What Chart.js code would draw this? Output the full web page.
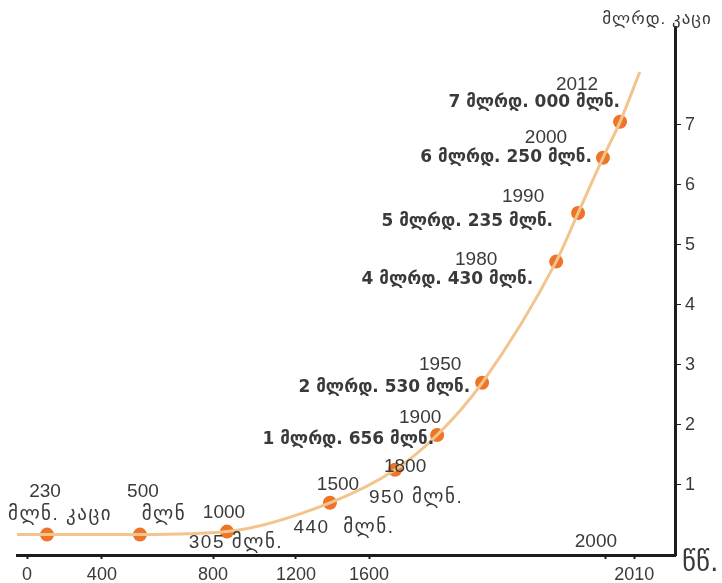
<!DOCTYPE html>
<html>
<head>
<meta charset="utf-8">
<script src="https://cdn.jsdelivr.net/npm/chart.js@4.4.1/dist/chart.umd.min.js"></script>
<style>
    html, body { margin: 0; padding: 0; background: #ffffff; }
    #wrap { width: 722px; height: 583px; }
</style>
</head>
<body>
<div id="wrap"><canvas id="popChart" width="722" height="583"></canvas></div>
<script>
// where each marker sits against the (not-to-scale) time axis
const markerYears = [107, 537, 867, 1386, 1644, 1715, 1791, 1916, 1953, 1995, 2005];
// population, billions, as read against the right axis
const markerValues = [0.17, 0.17, 0.22, 0.70, 1.25, 1.83, 2.70, 4.72, 5.53, 6.45, 7.05];
const curveStart = [-53, 0.17];
const curveEnd = [2012, 7.88];

const yearLabels = ["230", "500", "1000", "1500", "1800", "1900", "1950", "1980", "1990", "2000", "2012"];
const popLabels = [
    "მლნ. კაცი", "მლნ", "305 მლნ.", "440  მლნ.", "950 მლნ.",
    "1 მლრდ. 656 მლნ.", "2 მლრდ. 530 მლნ.", "4 მლრდ. 430 მლნ.",
    "5 მლრდ. 235 მლნ.", "6 მლრდ. 250 მლნ.", "7 მლრდ. 000 მლნ."
];

const axisYears = [0, 400, 800, 1200, 1600, 2000, 2010];
const valueTicks = [1, 2, 3, 4, 5, 6, 7];

// the axis in the picture is drawn unevenly, so the x scale is piecewise
const warpValues = [-53, 0, 400, 800, 1200, 1600, 2000, 2010, 2024.6];
const warpFracs = [0, 0.0152, 0.129, 0.298, 0.424, 0.535, 0.895, 0.938, 1];

function warp(v) {
    const n = warpValues.length;
    let i = 0;
    while (i < n - 2 && v > warpValues[i + 1]) i++;
    const t = (v - warpValues[i]) / (warpValues[i + 1] - warpValues[i]);
    return warpFracs[i] + t * (warpFracs[i + 1] - warpFracs[i]);
}

function unwarp(f) {
    const n = warpFracs.length;
    let i = 0;
    while (i < n - 2 && f > warpFracs[i + 1]) i++;
    const t = (f - warpFracs[i]) / (warpFracs[i + 1] - warpFracs[i]);
    return warpValues[i] + t * (warpValues[i + 1] - warpValues[i]);
}

class WarpScale extends Chart.LinearScale {
    getPixelForValue(value) {
        if (value === null || value === undefined) return NaN;
        return this.getPixelForDecimal(warp(value));
    }
    getValueForPixel(pixel) {
        return unwarp(this.getDecimalForPixel(pixel));
    }
}
WarpScale.id = "warp";
WarpScale.defaults = Chart.LinearScale.defaults;
Chart.register(WarpScale);

const textColor = "#3a3a3a";
const numFont = "19px 'Liberation Sans', 'DejaVu Sans', sans-serif";
const lowFont = "19px 'Liberation Sans', 'DejaVu Sans', sans-serif";
const highFont = "bold 17px 'DejaVu Sans', sans-serif";

// label placement next to each marker: year dx, dy, text dx, dy, align, style
const labelLayout = [
    [-2, -43, 13, -20, "center", "low"],
    [3, -43, 24, -20, "center", "low"],
    [-3, -19, 9, 11, "center", "low"],
    [8, -18, 14, 25, "center", "low"],
    [10, -3, 21, 28, "center", "low"],
    [-17, -17, -3, 5, "right", "high"],
    [-42, -18, -12, 5, "right", "high"],
    [-80, -2, -23, 18, "right", "high"],
    [-55, -16, -25, 9, "right", "high"],
    [-57, -20, -11, 0, "right", "high"],
    [-43, -37, 0, -19, "right", "high"]
];

const labelPlugin = {
    id: "pointLabels",
    afterDatasetsDraw(chart) {
        const ctx = chart.ctx;
        const meta = chart.getDatasetMeta(1);
        ctx.save();
        ctx.fillStyle = textColor;
        ctx.textBaseline = "middle";
        meta.data.forEach((pt, i) => {
            const l = labelLayout[i];
            ctx.letterSpacing = "0px";
            ctx.font = numFont;
            ctx.textAlign = "center";
            ctx.fillText(yearLabels[i], pt.x + l[0], pt.y + l[1]);
            if (l[5] === "low") {
                ctx.font = lowFont;
                ctx.letterSpacing = "1.5px";
            } else {
                ctx.font = highFont;
                ctx.letterSpacing = "0px";
            }
            ctx.textAlign = l[4];
            ctx.fillText(popLabels[i], pt.x + l[2], pt.y + l[3]);
        });

        const xs = chart.scales.x;
        const ys = chart.scales.y;
        ctx.letterSpacing = "0px";
        ctx.font = numFont;
        ctx.textAlign = "center";
        ctx.fillText("2000", xs.getPixelForValue(2000) - 10, xs.top - 13);

        ctx.font = "17px 'Liberation Sans', 'DejaVu Sans', sans-serif";
        ctx.letterSpacing = "1px";
        ctx.fillText("მლრდ. კაცი", ys.left - 18, 19);

        ctx.letterSpacing = "0px";
        ctx.font = "27px 'DejaVu Sans', sans-serif";
        ctx.textAlign = "left";
        ctx.fillText("წწ.", ys.left + 7, xs.top + 9);
        ctx.restore();
    }
};

const curvePoints = [{ x: curveStart[0], y: curveStart[1] }]
    .concat(markerYears.map((x, i) => ({ x: x, y: markerValues[i] })))
    .concat([{ x: curveEnd[0], y: curveEnd[1] }]);

new Chart(document.getElementById("popChart"), {
    type: "line",
    data: {
        datasets: [{
            data: curvePoints,
            borderColor: "#f2c48e",
            borderWidth: 3,
            pointRadius: 0,
            cubicInterpolationMode: "monotone",
            fill: false
        }, {
            data: markerYears.map((x, i) => ({ x: x, y: markerValues[i] })),
            showLine: false,
            pointRadius: 7,
            pointBackgroundColor: "#ee7428",
            pointBorderColor: "#ee7428",
            pointBorderWidth: 0
        }]
    },
    options: {
        responsive: false,
        animation: false,
        layout: { padding: { left: 17, top: 27, right: 0, bottom: 0 } },
        plugins: {
            legend: { display: false },
            tooltip: { enabled: false }
        },
        scales: {
            x: {
                type: "warp",
                min: -53,
                max: 2024.6,
                afterBuildTicks: s => { s.ticks = axisYears.map(v => ({ value: v })); },
                afterFit: s => { s.height = 28; },
                border: { color: "#1c1c1c", width: 3 },
                grid: { drawOnChartArea: false, tickLength: 4, color: "#1c1c1c", tickWidth: 2 },
                ticks: {
                    autoSkip: false,
                    maxRotation: 0,
                    padding: 5,
                    color: textColor,
                    font: { family: "'Liberation Sans', sans-serif", size: 18 },
                    callback: v => (v === 2000 ? "" : String(v))
                }
            },
            y: {
                type: "linear",
                position: "right",
                min: -0.17,
                max: 8.63,
                afterBuildTicks: s => { s.ticks = valueTicks.map(v => ({ value: v })); },
                afterFit: s => { s.width = 47; },
                border: { color: "#1c1c1c", width: 3 },
                grid: { drawOnChartArea: false, tickLength: 6, color: "#1c1c1c", tickWidth: 1 },
                ticks: {
                    padding: 4,
                    color: textColor,
                    font: { family: "'Liberation Sans', sans-serif", size: 18 }
                }
            }
        }
    },
    plugins: [labelPlugin]
});
</script>
</body>
</html>
